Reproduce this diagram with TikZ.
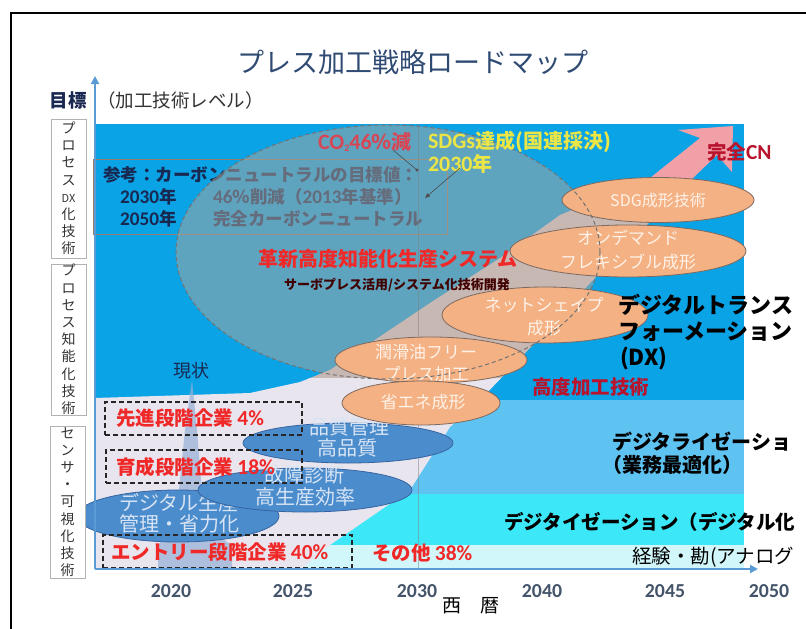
\documentclass[tikz,border=0pt]{standalone}
\usepackage{fontspec}
\setmainfont{Noto Sans CJK JP}
\newfontfamily\carl{Carlito}[Scale=1.1]
\usetikzlibrary{arrows.meta,shapes.geometric}
\definecolor{bandA}{RGB}{10,163,230}
\definecolor{bandB}{RGB}{95,195,242}
\definecolor{bandC}{RGB}{60,232,248}
\definecolor{bandD}{RGB}{210,247,251}
\definecolor{wpink}{RGB}{242,160,168}
\definecolor{wbeige}{RGB}{200,184,180}
\definecolor{wlav}{RGB}{232,229,238}
\definecolor{ellgray}{RGB}{165,165,160}
\definecolor{orfill}{RGB}{244,177,131}
\definecolor{oredge}{RGB}{125,105,95}
\definecolor{blfill}{RGB}{75,140,205}
\definecolor{bledge}{RGB}{55,100,160}
\definecolor{axblue}{RGB}{91,155,213}
\definecolor{navy}{RGB}{25,40,80}
\definecolor{titlec}{RGB}{47,75,115}
\definecolor{yearc}{RGB}{68,84,106}
\definecolor{redt}{RGB}{240,40,40}
\definecolor{darkred}{RGB}{185,20,45}
\definecolor{co2c}{RGB}{215,70,85}
\definecolor{sdgc}{RGB}{235,230,70}
\definecolor{spikec}{RGB}{150,175,215}
\definecolor{notec}{RGB}{150,125,105}
\definecolor{etxt}{RGB}{255,242,232}
\definecolor{btxt}{RGB}{215,228,245}
\newcommand\fs[2]{\fontsize{#1}{#2}\selectfont}
\newcommand\wedgepath{(95,398) -- (250,393) -- (300,382) -- (330,370) -- (430,303) -- (500,258) -- (560,215) -- (650,178) -- (700,138) -- (678,130) -- (733,126) -- (732,172) -- (717,155) -- (693,178) -- (593,280) -- (533,345) -- (480,400) -- (450,427) -- (410,490) -- (330,545) -- (300,570) -- (95,570) -- cycle}
\begin{document}
\begin{tikzpicture}[x=1pt,y=-1pt,
  lbl/.style={inner sep=0pt, outer sep=0pt},
  oell/.style={ellipse, draw=oredge, fill=orfill, line width=0.8pt, inner sep=0pt},
  bell/.style={ellipse, draw=bledge, fill=blfill, line width=0.8pt, inner sep=0pt},
  dbox/.style={draw=black!85, line width=1.4pt, dash pattern=on 5pt off 3pt, inner sep=0pt},
  vbox/.style={draw=gray!60, line width=0.6pt, fill=white, inner sep=0pt, align=center, text=black!80, font=\fs{14}{17.2}},
  axisline/.style={draw=axblue, line width=2.4pt, -{Triangle[length=8pt,width=8pt]}},
  etext/.style={lbl, text=etxt, font=\fs{17}{20}},
  btext/.style={lbl, text=btxt, font=\fs{20}{24}},
  redlbl/.style={lbl, anchor=west, text=redt, font=\bfseries\fs{19.5}{23}},
  year/.style={lbl, text=yearc, font=\carl\bfseries\fs{18}{22}},
  rtext/.style={lbl, anchor=west, text=black, font=\bfseries\fs{20}{24}},
  leader/.style={draw=black!70, line width=0.6pt},
]
\useasboundingbox (0,0) rectangle (806,629);
\fill[white] (0,0) rectangle (806,629);
% frame
\draw[black, line width=1.6pt] (806,13) -- (11,13) -- (11,629);
% bands
\fill[bandA] (95,124) rectangle (744,400);
\fill[bandB] (95,400) rectangle (744,494);
\fill[bandC] (95,494) rectangle (744,545);
\fill[bandD] (95,545) rectangle (744,569);
% note box
\node[draw=notec, line width=0.8pt, minimum width=354pt, minimum height=75pt, inner sep=0pt] (note) at (270,196.5) {};
\node[lbl, anchor=west, text=navy, font=\bfseries\fs{17.5}{20}] (ref1) at (103,175) {参考：カーボンニュートラルの目標値：};
\node[lbl, anchor=west, text=navy, font=\bfseries\fs{17.5}{20}] (y2030) at (120,197) {{\carl 2030}年};
\node[lbl, anchor=west, text=navy, font=\bfseries\fs{17.5}{20}] (c2030) at (213,197) {{\carl 46}％削減（{\carl 2013}年基準）};
\node[lbl, anchor=west, text=navy, font=\bfseries\fs{17.5}{20}] (y2050) at (120,219) {{\carl 2050}年};
\node[lbl, anchor=west, text=navy, font=\bfseries\fs{17.5}{20}] (c2050) at (213,219) {完全カーボンニュートラル};
% big translucent ellipse fill
\fill[ellgray, opacity=0.55] (388,252) ellipse [x radius=212pt, y radius=127pt];
% wedge arrow
\begin{scope}
  \clip (0,0) rectangle (806,200);
  \fill[wpink] \wedgepath;
\end{scope}
\begin{scope}
  \clip (0,200) rectangle (806,378);
  \fill[wbeige] \wedgepath;
\end{scope}
\begin{scope}
  \clip (0,378) rectangle (806,569);
  \fill[wlav] \wedgepath;
\end{scope}
% 2030 vertical line
\coordinate (vtop) at (418,124);
\coordinate (vbot) at (418,568);
\draw[gray, line width=0.5pt, opacity=0.5] (vtop) -- (vbot);
% spike under genjo
\fill[spikec, opacity=0.7] (192,380) -- (185,430) -- (180,480) -- (174,530) -- (158,545) -- (158,568) -- (232,568) -- (232,545) -- (208,530) -- (201,480) -- (197,430) -- cycle;
% blue ellipses
\node[bell, minimum width=202pt, minimum height=52pt] (dig) at (178,516) {};
\node[btext] (dig1) at (179,503) {デジタル生産};
\node[btext] (dig2) at (179,524) {管理・省力化};
\node[bell, minimum width=214pt, minimum height=44pt] (kosho) at (305,490) {};
\node[btext] (kosho1) at (304,475) {故障診断};
\node[btext] (kosho2) at (305,497) {高生産効率};
\node[bell, minimum width=210pt, minimum height=40pt] (hin) at (348,443) {};
\node[btext] (hin1) at (349,427) {品質管理};
\node[btext] (hin2) at (347,448) {高品質};
% orange ellipses
\node[oell, minimum width=192pt, minimum height=45pt] (sdg) at (658,200) {};
\node[etext, font=\fs{16}{19}] (sdgt) at (658,200) {SDG成形技術};
\node[oell, minimum width=236pt, minimum height=52pt] (ond) at (628,251) {};
\node[etext] (ond1) at (628,238) {オンデマンド};
\node[etext] (ond2) at (628,262) {フレキシブル成形};
\node[oell, minimum width=206pt, minimum height=56pt] (net) at (545,315) {};
\node[etext] (net1) at (544,305) {ネットシェイプ};
\node[etext] (net2) at (544,328) {成形};
\node[oell, minimum width=192pt, minimum height=46pt] (lub) at (431,360) {};
\node[etext] (lub1) at (426,352) {潤滑油フリー};
\node[etext] (lub2) at (426,374) {プレス加工};
\node[oell, minimum width=158pt, minimum height=44pt] (eco) at (421,403) {};
\node[etext] (ecot) at (423,402) {省エネ成形};
% dashed outline of big ellipse
\draw[black!55, line width=1pt, dash pattern=on 4pt off 3pt] (388,252) ellipse [x radius=212pt, y radius=127pt];
% dashed boxes
\node[dbox, minimum width=197pt, minimum height=33pt] (bx1) at (203.5,418.5) {};
\node[dbox, minimum width=196pt, minimum height=33pt] (bx2) at (204,466.5) {};
\node[dbox, minimum width=249pt, minimum height=33pt] (bx3) at (227.5,551.5) {};
\node[redlbl] (sen) at (116,418) {先進段階企業 {\carl 4\%}};
\node[redlbl] (iku) at (116,467) {育成段階企業 {\carl 18\%}};
\node[redlbl] (ent) at (111,552) {エントリー段階企業 {\carl 40\%}};
\node[redlbl] (other) at (372,553) {その他 {\carl 38\%}};
% genjo
\node[lbl, text=navy, font=\fs{18}{21}] (genjo) at (191,371) {現状};
% top texts
\node[lbl, anchor=west, text=co2c, font=\bfseries\fs{20}{24}] (co2) at (318,142) {{\carl CO}\raisebox{-2.5pt}{\carl\fs{9}{10}2}{\carl 46}％減};
\node[lbl, anchor=west, text=sdgc, font=\bfseries\fs{20}{24}] (sdgs) at (428,142) {{\carl SDGs}達成(国連採決)};
\node[lbl, anchor=west, text=sdgc, font=\bfseries\fs{20}{24}] (sdgy) at (428,164) {{\carl 2030}年};
\coordinate (co2a) at (393,150);
\coordinate (co2b) at (417,170);
\draw[leader] (co2a) -- (co2b);
\fill[black!70] (co2b) circle (1.6pt);
\coordinate (sdga) at (460,168);
\coordinate (sdgb) at (425,198);
\draw[leader, -{Triangle[length=5pt,width=4pt]}] (sdga) -- (sdgb);
\node[lbl, anchor=west, text=darkred, font=\bfseries\fs{19.5}{23}] (cn) at (707,152) {完全{\carl CN}};
\node[lbl, text=redt, font=\bfseries\fs{20}{24}] (kakushin) at (388,259) {革新高度知能化生産システム};
\node[lbl, text=black!75!red, font=\bfseries\fs{13}{16}] (servo) at (397,285) {サーボプレス活用/システム化技術開発};
% right texts
\node[rtext, font=\bfseries\fs{22}{26}] (dx1) at (618,305) {デジタルトランス};
\node[rtext, font=\bfseries\fs{22}{26}] (dx2) at (618,332) {フォーメーション};
\node[rtext, font=\bfseries\fs{22}{26}] (dx3) at (620,358) {(DX)};
\node[lbl, anchor=west, text=darkred, font=\bfseries\fs{19.5}{23}] (kodo) at (532,387) {高度加工技術};
\node[rtext] (dz1) at (612,442) {デジタライゼーショ};
\node[rtext] (dz2) at (602,465) {（業務最適化）};
\node[rtext, font=\bfseries\fs{19.5}{23}] (dt) at (504,522) {デジタイゼーション（デジタル化};
\node[lbl, anchor=west, text=black, font=\fs{19.5}{23}] (an) at (632,557) {経験・勘(アナログ};
% title and axis labels
\node[lbl, text=titlec, font=\fs{27}{31}] (title) at (413,62) {プレス加工戦略ロードマップ};
\node[lbl, text=navy, font=\bfseries\fs{18.5}{22}] (goal) at (68,100) {目標};
\node[lbl, anchor=west, text=black!80, font=\fs{18.5}{22}] (level) at (97,100) {（加工技術レベル）};
\node[vbox, minimum width=35pt, minimum height=139pt] (vb1) at (68.5,188.5) {プ\\ロ\\セ\\ス\\{\fs{11}{13}DX}\\化\\技\\術};
\node[vbox, minimum width=35pt, minimum height=151pt] (vb2) at (68.5,339.5) {プ\\ロ\\セ\\ス\\知\\能\\化\\技\\術};
\node[vbox, minimum width=35pt, minimum height=152pt] (vb3) at (67.5,502) {セ\\ン\\サ\\・\\可\\視\\化\\技\\術};
% axes
\coordinate (orig) at (95,569);
\coordinate (ytip) at (95,76);
\coordinate (xtip) at (758,569);
\draw[axisline] (orig) -- (ytip);
\draw[axisline] (orig) -- (xtip);
\node[year] (y20) at (171,591) {2020};
\node[year] (y25) at (293,591) {2025};
\node[year] (y30) at (417,591) {2030};
\node[year] (y40) at (542,591) {2040};
\node[year] (y45) at (665,591) {2045};
\node[year] (y50) at (769,591) {2050};
\node[lbl, text=black, font=\fs{19}{22}] (seireki) at (471,606) {西　暦};
\end{tikzpicture}
\end{document}
